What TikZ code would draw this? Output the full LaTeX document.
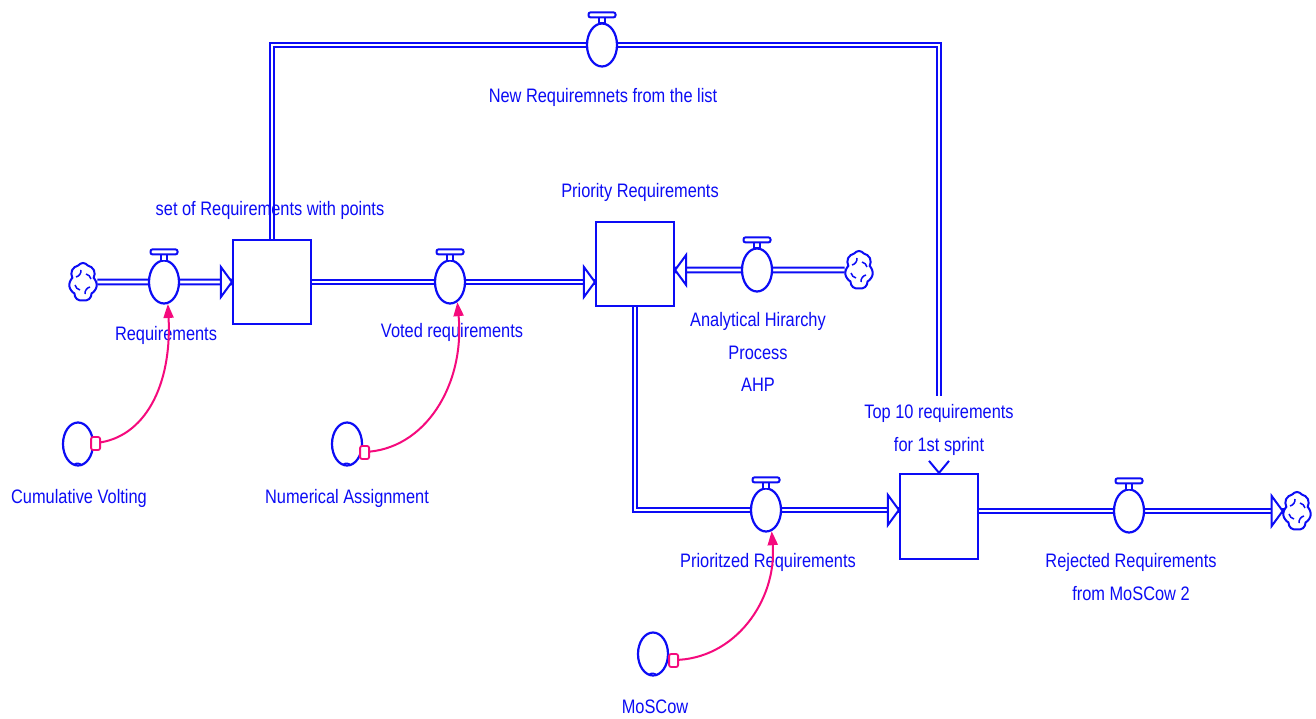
\documentclass[tikz,border=0pt]{standalone}
\usepackage{fontspec}
\setmainfont{Liberation Sans}[FakeStretch=0.84]
\usetikzlibrary{shapes.geometric,shapes.symbols,calc,arrows.meta,backgrounds}
\definecolor{vblue}{RGB}{12,12,245}
\definecolor{vpink}{RGB}{245,10,125}
\tikzset{
  x=1pt,y=-1pt,
  pipe/.style={draw=vblue, line width=2pt, double=white, double distance=2.6pt, line join=miter},
  stockbox/.style={draw=vblue, line width=2.2pt, fill=white, rectangle, minimum width=78pt, minimum height=84pt, inner sep=0pt},
  valvebody/.style={draw=vblue, line width=2.2pt, fill=white, ellipse, minimum width=30pt, minimum height=43pt, inner sep=0pt},
  auxvar/.style={draw=vblue, line width=2.2pt, fill=white, ellipse, minimum width=30pt, minimum height=43pt, inner sep=0pt},
  sinkcloud/.style={draw=vblue, line width=2pt, fill=white, cloud, cloud puffs=7, cloud puff arc=110, cloud ignores aspect, minimum width=28pt, minimum height=38pt, inner sep=0pt},
  lbl/.style={text=vblue, font=\fontsize{19.5}{32.5}\selectfont, inner sep=0pt, align=center},
  infl/.style={draw=vpink, line width=2pt, -{Triangle[length=14pt,width=10pt]}},
  linkmark/.style={draw=vpink, line width=1.8pt, rounded corners=2pt, fill=white},
  thin blue/.style={draw=vblue, line width=1.5pt},
  flowhead/.pic={\draw[draw=vblue, line width=2pt, fill=white, line join=miter] (0,0) -- (-11,-15) -- (-11,15) -- cycle;},
}
\newcommand{\valvetop}[1]{%
  \draw[draw=vblue, line width=1.8pt, fill=white] ($(#1.north)+(-3,1)$) rectangle ($(#1.north)+(3,-5)$);
  \draw[draw=vblue, line width=2pt, fill=white, rounded corners=2pt] ($(#1.north)+(-13.5,-5)$) rectangle ($(#1.north)+(13.5,-10)$);}
\newcommand{\cloudmarks}[1]{%
  \draw[thin blue] ($(#1)+(-7,-5)$) to[bend right=40] ($(#1)+(-2,-12)$);
  \draw[thin blue] ($(#1)+(7,5)$) to[bend right=40] ($(#1)+(2,12)$);
  \draw[thin blue] ($(#1)+(3,-8)$) to[bend left=30] ($(#1)+(8,-3)$);
  \draw[thin blue] ($(#1)+(-3,8)$) to[bend left=30] ($(#1)+(-8,3)$);}
\newcommand{\auxtick}[1]{%
  \draw[thin blue] ($(#1.south)+(-4,-2)$) to[bend left=50] ($(#1.south)+(4,-1)$);}
\begin{document}
\begin{tikzpicture}
\useasboundingbox (0,0) rectangle (1316,719);

% clouds
\node[sinkcloud] (cl1) at (83,282) {};
\node[sinkcloud] (cl2) at (859,270) {};
\node[sinkcloud] (cl3) at (1297,511) {};
\cloudmarks{cl1}\cloudmarks{cl2}\cloudmarks{cl3}

% stocks
\node[stockbox] (s1) at (272,282) {};
\node[stockbox] (s2) at (635,264) {};
\node[stockbox, minimum height=85pt] (s3) at (939,516.5) {};

% valves
\node[valvebody] (v1) at (164,282) {};
\node[valvebody] (v2) at (450,282) {};
\node[valvebody] (v3) at (757,270) {};
\node[valvebody] (v4) at (602,45) {};
\node[valvebody] (v5) at (766,510) {};
\node[valvebody] (v6) at (1129,511) {};
\valvetop{v1}\valvetop{v2}\valvetop{v3}\valvetop{v4}\valvetop{v5}\valvetop{v6}

% auxiliaries
\node[auxvar] (a1) at (78,444) {};
\node[auxvar] (a2) at (347,444) {};
\node[auxvar] (a3) at (653,654) {};
\auxtick{a1}\auxtick{a2}\auxtick{a3}

% pipes (behind)
\begin{pgfonlayer}{background}
\fill[white] (0,0) rectangle (1316,719);
\draw[pipe] (cl1) -- (s1.west);
\pic at (s1.west) {flowhead};
\draw[pipe] (s1.east) -- (s2.west |- s1.east);
\pic at (s2.west |- s1.east) {flowhead};
\draw[pipe] (cl2) -- (s2.east |- cl2);
\pic[rotate=180] at (s2.east |- cl2) {flowhead};
\draw[pipe] (s1.north) |- (v4) -| ($(s3.north)+(0,-77)$);
\draw[pipe] (s2.south) |- (v5) -- (v5 -| s3.west);
\pic at (v5 -| s3.west) {flowhead};
\draw[pipe] (s3.east |- v6) -- (cl3.center |- v6);
\pic at (cl3.west |- v6) {flowhead};
\end{pgfonlayer}
\draw[draw=vblue, line width=2pt] ($(s3.north)+(-10,-12)$) -- (s3.north) -- ($(s3.north)+(10,-12)$);

% labels
\node[lbl, anchor=base] (t1) at (166,340) {Requirements};
\node[lbl, anchor=base] (t2) at (452,337) {Voted requirements};
\node[lbl, anchor=base] (t3) at (270,216) {set of Requirements with points};
\node[lbl, anchor=base] (t4) at (640,198) {Priority Requirements};
\node[lbl, anchor=base] (t5) at (603,103) {New Requiremnets from the list};
\node[lbl] (t6) at (758,352) {Analytical Hirarchy\\Process\\AHP};
\node[lbl] (t7) at (939,430) {Top 10 requirements\\for 1st sprint};
\node[lbl, anchor=base] (t8) at (79,503) {Cumulative Volting};
\node[lbl, anchor=base] (t9) at (347,503) {Numerical Assignment};
\node[lbl, anchor=base] (t10) at (768,567) {Prioritzed Requirements};
\node[lbl] (t11) at (1131,577) {Rejected Requirements\\from MoSCow 2};
\node[lbl, anchor=base] (t12) at (655,713) {MoSCow};

% information links
\draw[infl] ($(a1.east)+(2,-1)$) .. controls (145,438) and (172,385) .. (v1.-80);
\draw[linkmark] ($(a1.east)+(-3,-7)$) rectangle ($(a1.east)+(6,6)$);
\draw[infl] ($(a2.east)+(1,8)$) .. controls (425,450) and (465,385) .. (v2.-70);
\draw[linkmark] ($(a2.east)+(-3,2)$) rectangle ($(a2.east)+(6,15)$);
\draw[infl] ($(a3.east)+(4,6)$) .. controls (735,660) and (777,600) .. (v5.-75);
\draw[linkmark] ($(a3.east)+(0,0)$) rectangle ($(a3.east)+(9,13)$);
\end{tikzpicture}
\end{document}
